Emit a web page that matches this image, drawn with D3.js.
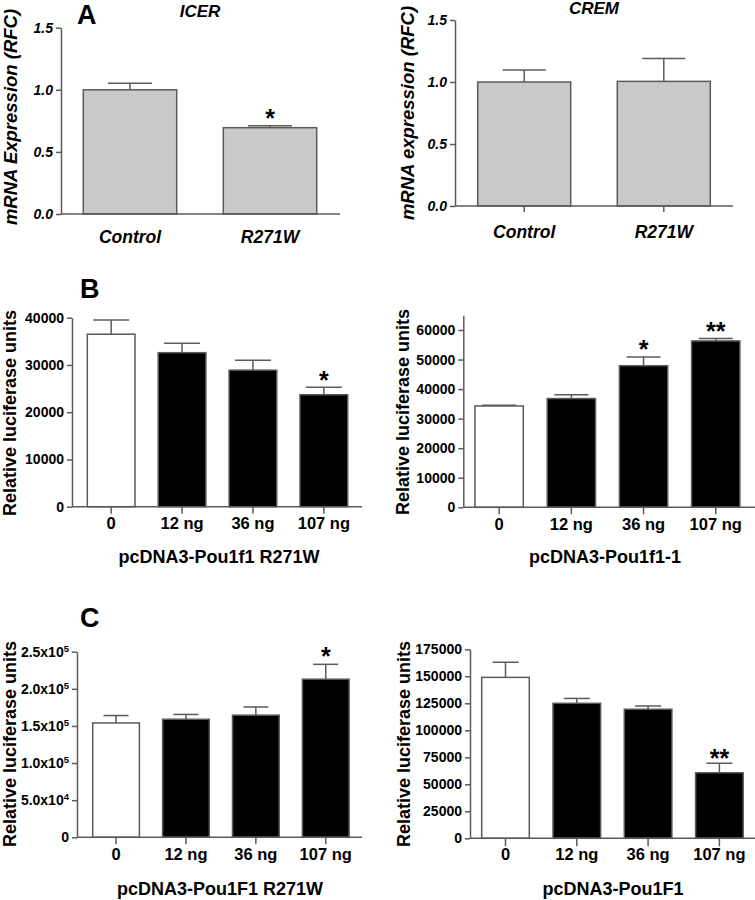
<!DOCTYPE html>
<html><head><meta charset="utf-8">
<script src="https://cdn.jsdelivr.net/npm/d3@7"></script>
<style>
body{margin:0;background:#fff}
svg{display:block}
text{font-family:"Liberation Sans",Arial,Helvetica,sans-serif;fill:#000}
</style>
</head><body>
<svg id="chart" width="755" height="900"></svg>
<script>
// ---------------- DATA ----------------
const geneCategories = ["Control", "R271W"];
const mrnaTicks = [0, 0.5, 1.0, 1.5];
const icerValues = [1.0, 0.695];
const icerErrors = [0.052, 0.016];
const icerStars = ["", "*"];
const cremValues = [1.0, 1.005];
const cremErrors = [0.097, 0.185];
const cremStars = ["", ""];

const doseCategories = ["0", "12 ng", "36 ng", "107 ng"];
const bMutTicks = [0, 10000, 20000, 30000, 40000];
const bMutValues = [36500, 32600, 28900, 23700];
const bMutErrors = [3000, 2000, 2100, 1600];
const bMutStars = ["", "", "", "*"];
const bWtTicks = [0, 10000, 20000, 30000, 40000, 50000, 60000];
const bWtValues = [34300, 36800, 47900, 56300];
const bWtErrors = [200, 1300, 3000, 800];
const bWtStars = ["", "", "*", "**"];
const cMutTicks = [0, 50000, 100000, 150000, 200000, 250000];
const cMutValues = [154000, 159000, 164500, 213000];
const cMutErrors = [10000, 6500, 11000, 20000];
const cMutStars = ["", "", "", "*"];
const cWtTicks = [0, 25000, 50000, 75000, 100000, 125000, 150000, 175000];
const cWtValues = [149000, 125000, 119500, 60700];
const cWtErrors = [14000, 4500, 3000, 8800];
const cWtStars = ["", "", "", "**"];

// ---------------- LAYOUT ----------------
const GREY = "#5a5a5a";
const svg = d3.select("#chart");

function sciFormat(t, d) {
  t.text(null);
  if (d === 0) { t.text("0"); return; }
  const e = Math.floor(Math.log10(d) + 1e-9);
  const m = d / Math.pow(10, e);
  t.append("tspan").text(m.toFixed(1) + "x10");
  t.append("tspan").attr("font-size", 9.5).attr("dy", -5).text(e);
}

function drawPanel(p) {
  const g = svg.append("g");
  const n = p.cats.length;
  const pi = 1 - p.bw / p.step;
  const po = (p.barStart - p.x0) / p.step;
  const x = d3.scaleBand().domain(p.cats)
    .range([p.x0, p.x0 + p.step * (n - pi + 2 * po)])
    .paddingInner(pi).paddingOuter(po);
  const yTopPx = p.y0 - (p.y0 - p.refPx) * p.yMax / p.refVal;
  const y = d3.scaleLinear().domain([0, p.yMax]).range([p.y0, yTopPx]);

  // bars
  g.selectAll("rect.bar").data(p.values).join("rect")
    .attr("x", (d, i) => x(p.cats[i]))
    .attr("y", d => y(d))
    .attr("width", x.bandwidth())
    .attr("height", d => y(0) - y(d))
    .attr("fill", (d, i) => p.fill(i))
    .attr("stroke", GREY).attr("stroke-width", 1.5);

  // error bars (upper only)
  p.values.forEach((v, i) => {
    const cx = x(p.cats[i]) + x.bandwidth() / 2;
    const top = y(v + p.errors[i]);
    g.append("line").attr("x1", cx).attr("x2", cx).attr("y1", y(v)).attr("y2", top)
      .attr("stroke", GREY).attr("stroke-width", 1.5);
    g.append("line").attr("x1", cx - p.cap / 2).attr("x2", cx + p.cap / 2).attr("y1", top).attr("y2", top)
      .attr("stroke", GREY).attr("stroke-width", 1.5);
    if (p.stars[i]) {
      g.append("text").attr("x", cx).attr("y", top + p.starOff)
        .attr("text-anchor", "middle").attr("font-size", 25).attr("font-weight", "bold")
        .text(p.stars[i]);
    }
  });

  // y axis
  const ya = d3.axisLeft(y).tickValues(p.ticks).tickSize(5).tickSizeOuter(0).tickPadding(3);
  if (p.yFormat) ya.tickFormat(p.yFormat);
  const yg = g.append("g").attr("transform", `translate(${p.x0},0)`).call(ya);
  yg.select(".domain").attr("stroke", GREY).attr("stroke-width", 1.5);
  yg.selectAll(".tick line").attr("stroke", GREY).attr("stroke-width", 1.5);
  yg.selectAll(".tick text")
    .attr("font-size", 14).attr("font-weight", "bold")
    .attr("font-style", p.italic ? "italic" : "normal")
    .attr("fill", "#000");
  if (p.sci) yg.selectAll(".tick text").each(function(d) { sciFormat(d3.select(this), d); });

  // x axis
  const xa = d3.axisBottom(x).tickSize(p.xTick).tickSizeOuter(0);
  const xg = g.append("g").attr("transform", `translate(0,${p.y0})`).call(xa);
  xg.select(".domain").remove();
  xg.selectAll(".tick line").attr("stroke", GREY).attr("stroke-width", 1.5);
  xg.selectAll(".tick text")
    .attr("dy", 0).attr("y", p.xLabelY - p.y0)
    .attr("font-size", p.xFont).attr("font-weight", "bold")
    .attr("font-style", p.italic ? "italic" : "normal")
    .attr("fill", "#000");
  g.append("line").attr("x1", p.x0).attr("x2", p.xEnd).attr("y1", p.y0).attr("y2", p.y0)
    .attr("stroke", GREY).attr("stroke-width", 1.5);

  // y title
  g.append("text")
    .attr("transform", `translate(${p.yTitleX},${p.yTitleY}) rotate(-90)`)
    .attr("text-anchor", "middle").attr("font-size", p.yTitleFont).attr("font-weight", "bold")
    .attr("font-style", p.italic ? "italic" : "normal")
    .text(p.yTitle);

  // x title / top title
  if (p.xTitle) {
    g.append("text").attr("x", p.xTitleX).attr("y", p.xTitleY)
      .attr("text-anchor", "middle").attr("font-size", 18).attr("font-weight", "bold")
      .text(p.xTitle);
  }
  if (p.title) {
    g.append("text").attr("x", p.titleX).attr("y", p.titleY)
      .attr("text-anchor", "middle").attr("font-size", 17).attr("font-weight", "bold")
      .attr("font-style", "italic").text(p.title);
  }
}

const greyFill = () => "#c9c9c9";
const doseFill = i => i === 0 ? "#ffffff" : "#000000";

drawPanel({cats: geneCategories, values: icerValues, errors: icerErrors, stars: icerStars, ticks: mrnaTicks,
  yFormat: d3.format(".1f"), italic: true, fill: greyFill,
  x0: 61, xEnd: 340, y0: 214, refVal: 1.5, refPx: 27.7, yMax: 1.5,
  barStart: 83.3, step: 140, bw: 93.4, cap: 44, xTick: 0, starOff: 1,
  xLabelY: 243, xFont: 17.5, yTitle: "mRNA Expression (RFC)", yTitleX: 17, yTitleY: 117, yTitleFont: 18.5,
  title: "ICER", titleX: 200, titleY: 17});

drawPanel({cats: geneCategories, values: cremValues, errors: cremErrors, stars: cremStars, ticks: mrnaTicks,
  yFormat: d3.format(".1f"), italic: true, fill: greyFill,
  x0: 455, xEnd: 733, y0: 206, refVal: 1.5, refPx: 20, yMax: 1.5,
  barStart: 477.7, step: 139.6, bw: 93, cap: 43, xTick: 6, starOff: 1,
  xLabelY: 238, xFont: 17.5, yTitle: "mRNA expression (RFC)", yTitleX: 414, yTitleY: 113, yTitleFont: 18.5,
  title: "CREM", titleX: 594, titleY: 14});

drawPanel({cats: doseCategories, values: bMutValues, errors: bMutErrors, stars: bMutStars, ticks: bMutTicks,
  yFormat: d3.format("d"), italic: false, fill: doseFill,
  x0: 72, xEnd: 362, y0: 506.7, refVal: 40000, refPx: 317.7, yMax: 40000,
  barStart: 87.3, step: 70.9, bw: 47.7, cap: 36, xTick: 7, starOff: 2,
  xLabelY: 529, xFont: 16.5, yTitle: "Relative luciferase units", yTitleX: 16, yTitleY: 413, yTitleFont: 18,
  xTitle: "pcDNA3-Pou1f1 R271W", xTitleX: 219, xTitleY: 563});

drawPanel({cats: doseCategories, values: bWtValues, errors: bWtErrors, stars: bWtStars, ticks: bWtTicks,
  yFormat: d3.format("d"), italic: false, fill: doseFill,
  x0: 463.3, xEnd: 755, y0: 507.3, refVal: 60000, refPx: 330, yMax: 65000,
  barStart: 475, step: 72.2, bw: 48.3, cap: 34, xTick: 7, starOff: 1,
  xLabelY: 530, xFont: 16.5, yTitle: "Relative luciferase units", yTitleX: 409, yTitleY: 412, yTitleFont: 18,
  xTitle: "pcDNA3-Pou1f1-1", xTitleX: 605, xTitleY: 563});

drawPanel({cats: doseCategories, values: cMutValues, errors: cMutErrors, stars: cMutStars, ticks: cMutTicks,
  sci: true, italic: false, fill: doseFill,
  x0: 77, xEnd: 362, y0: 837.3, refVal: 250000, refPx: 651.7, yMax: 250000,
  barStart: 92.7, step: 69.9, bw: 46.7, cap: 25, xTick: 7, starOff: 1,
  xLabelY: 860, xFont: 16.5, yTitle: "Relative luciferase units", yTitleX: 16, yTitleY: 744, yTitleFont: 18,
  xTitle: "pcDNA3-Pou1F1 R271W", xTitleX: 220, xTitleY: 895});

drawPanel({cats: doseCategories, values: cWtValues, errors: cWtErrors, stars: cWtStars, ticks: cWtTicks,
  yFormat: d3.format("d"), italic: false, fill: doseFill,
  x0: 470, xEnd: 755, y0: 838.3, refVal: 175000, refPx: 649.3, yMax: 175000,
  barStart: 481.7, step: 71.3, bw: 47.6, cap: 26, xTick: 8, starOff: 4,
  xLabelY: 860, xFont: 16.5, yTitle: "Relative luciferase units", yTitleX: 410, yTitleY: 744, yTitleFont: 18,
  xTitle: "pcDNA3-Pou1F1", xTitleX: 613, xTitleY: 895});

// panel letters
const panelLetters = ["A", "B", "C"];
const letterPos = [[77, 24], [80, 298], [80, 627]];
panelLetters.forEach((L, i) => {
  svg.append("text").attr("x", letterPos[i][0]).attr("y", letterPos[i][1])
    .attr("font-size", 27).attr("font-weight", "bold").text(L);
});
</script>
</body></html>
